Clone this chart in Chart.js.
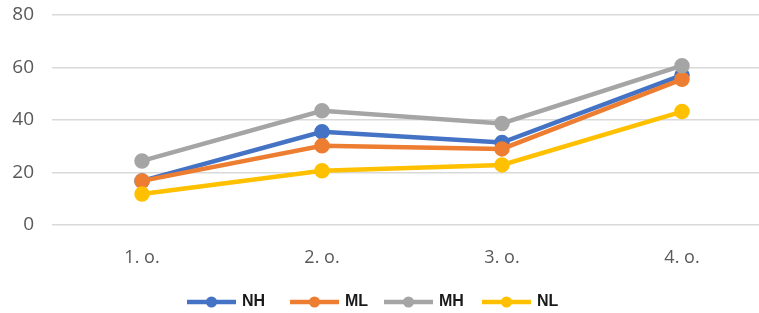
<!DOCTYPE html>
<html>
<head>
<script src="https://cdn.jsdelivr.net/npm/chart.js@4.4.1/dist/chart.umd.min.js"></script>
<style>
  html,body{margin:0;padding:0;background:#fff;overflow:hidden;}
  #wrap{width:759px;height:313px;overflow:hidden;position:relative;}
  #box{position:absolute;left:0;top:0;width:782px;height:313px;}
</style>
</head>
<body>
<div id="wrap"><div id="box"><canvas id="myChart"></canvas></div></div>
<script>
  const categories = ['1. o.', '2. o.', '3. o.', '4. o.'];
  const nh = [16.8, 35.5, 31.4, 57.1];
  const ml = [16.8, 30.2, 29.0, 55.5];
  const mh = [24.4, 43.5, 38.7, 60.7];
  const nl = [11.8, 20.7, 22.9, 43.2];
  const yTicks = [0, 20, 40, 60, 80];

  const mk = (label, data, color, order) => ({
    label: label, data: data, order: order,
    borderColor: color, backgroundColor: color,
    pointBackgroundColor: color, pointBorderColor: color,
    borderWidth: 4.5, pointRadius: 5.5, pointHoverRadius: 5.5,
    tension: 0
  });

  // later series on top like in excel
  const datasets = [
    mk('NH', nh, '#4472C4', 3),
    mk('ML', ml, '#ED7D31', 2),
    mk('MH', mh, '#A5A5A5', 1),
    mk('NL', nl, '#FFC000', 0)
  ];

  // legend drawn by hand: line with dot + bold label
  const legendPlugin = {
    id: 'lineLegend',
    afterDraw(chart) {
      const ctx = chart.ctx;
      const xs = [187, 290, 384, 482];
      const y = 302;
      ctx.save();
      chart.data.datasets.forEach((ds, i) => {
        const x = xs[i];
        ctx.strokeStyle = ds.borderColor;
        ctx.lineWidth = 4.5;
        ctx.beginPath();
        ctx.moveTo(x, y);
        ctx.lineTo(x + 49, y);
        ctx.stroke();
        ctx.fillStyle = ds.borderColor;
        ctx.beginPath();
        ctx.arc(x + 24.5, y, 5.5, 0, Math.PI * 2);
        ctx.fill();
        ctx.fillStyle = '#1a1a1a';
        ctx.font = 'bold 16px "Liberation Sans", Arial, sans-serif';
        ctx.textBaseline = 'middle';
        ctx.fillText(ds.label, x + 55, y);
      });
      ctx.restore();
    }
  };

  new Chart(document.getElementById('myChart'), {
    type: 'line',
    data: { labels: categories, datasets: datasets },
    options: {
      responsive: true,
      maintainAspectRatio: false,
      animation: false,
      layout: { padding: { top: 15, left: 0, right: 0, bottom: 0 } },
      plugins: { legend: { display: false }, tooltip: { enabled: false } },
      scales: {
        x: {
          offset: true,
          grid: { display: false, drawTicks: false },
          border: { display: false },
          ticks: { color: '#595959', padding: 22, font: { size: 18, family: '"Open Sans", sans-serif' } },
          afterFit(s) { s.height = 88; s.paddingLeft = 0; s.paddingRight = 0; }
        },
        y: {
          min: 0, max: 80,
          afterBuildTicks(s) { s.ticks = yTicks.map(v => ({ value: v })); },
          grid: { color: '#d9d9d9', lineWidth: 1.5, drawTicks: false },
          border: { display: false },
          ticks: { color: '#595959', padding: 18, font: { size: 19, family: '"Open Sans", sans-serif' } },
          afterFit(s) { s.width = 52; s.paddingTop = 0; s.paddingBottom = 0; }
        }
      }
    },
    plugins: [legendPlugin]
  });
</script>
</body>
</html>
